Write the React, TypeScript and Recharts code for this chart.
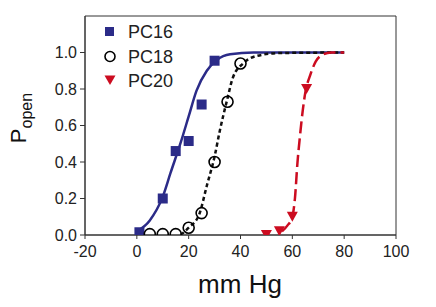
import React from 'react';
import { ComposedChart, Line, Scatter, XAxis, YAxis, ReferenceArea } from 'recharts';

const xTicks = [-20, 0, 20, 40, 60, 80, 100];
const yTicks = [0, 0.2, 0.4, 0.6, 0.8, 1.0];

const pc16PtX = [1, 10, 15, 20, 25, 30];
const pc16PtY = [0.015, 0.2, 0.46, 0.515, 0.715, 0.955];
const pc18PtX = [5, 10, 15, 20, 25, 30, 35, 40];
const pc18PtY = [0.005, 0.005, 0.005, 0.04, 0.12, 0.4, 0.73, 0.94];
const pc20PtX = [50, 55, 60, 65.5];
const pc20PtY = [0.0, 0.02, 0.1, 0.8];

const pc16FitX = [0, 5, 10, 13, 17, 20, 23, 27, 31, 36, 45, 80];
const pc16FitY = [0.02, 0.08, 0.21, 0.34, 0.51, 0.65, 0.79, 0.9, 0.96, 0.99, 1.0, 1.0];
const pc18FitX = [17, 20, 24, 27, 30, 32, 35, 37, 41, 46, 55, 80];
const pc18FitY = [0.0, 0.04, 0.11, 0.27, 0.43, 0.57, 0.75, 0.86, 0.94, 0.98, 0.997, 1.0];
const pc20FitX = [56, 58, 60, 61, 62, 63, 64, 65, 67, 69, 72, 75, 80];
const pc20FitY = [0.02, 0.05, 0.1, 0.2, 0.4, 0.55, 0.68, 0.78, 0.88, 0.95, 0.99, 1.0, 1.0];

const zip = (xs: number[], ys: number[]) => xs.map((x, i) => ({ x, y: ys[i] }));

const pc16Pts = zip(pc16PtX, pc16PtY);
const pc18Pts = zip(pc18PtX, pc18PtY);
const pc20Pts = zip(pc20PtX, pc20PtY);
const pc16Fit = zip(pc16FitX, pc16FitY);
const pc18Fit = zip(pc18FitX, pc18FitY);
const pc20Fit = zip(pc20FitX, pc20FitY);

const NAVY = '#2b2b88';
const RED = '#cc0c20';
const FONT = '"Liberation Sans", Arial, sans-serif';

const Square = (p: any) => (
  <rect x={p.cx - 5} y={p.cy - 5} width={10} height={10} fill={NAVY} />
);
const Circ = (p: any) => (
  <circle cx={p.cx} cy={p.cy} r={5.5} fill="none" stroke="#000" strokeWidth={1.6} />
);
const Tri = (p: any) => (
  <path d={`M${p.cx - 5.5},${p.cy - 5} L${p.cx + 5.5},${p.cy - 5} L${p.cx},${p.cy + 5} Z`} fill={RED} />
);

export default function App() {
  return (
    <div style={{ position: 'absolute', left: 0, top: 0, width: 436, height: 307, background: '#fff' }}>
      <ComposedChart
        width={436}
        height={307}
        margin={{ top: 16, right: 40, bottom: 42, left: 0 }}
      >
        <XAxis
          type="number"
          dataKey="x"
          domain={[-20, 100]}
          ticks={xTicks}
          allowDataOverflow
          stroke="#333"
          tickSize={4}
          tick={{ fill: '#222', fontSize: 16, fontFamily: FONT }}
          tickMargin={7}
          height={30}
        />
        <YAxis
          type="number"
          dataKey="y"
          domain={[0, 1.2]}
          ticks={yTicks}
          allowDataOverflow
          width={85}
          stroke="#333"
          tickSize={5}
          tickMargin={3}
          tickFormatter={(v: number) => v.toFixed(1)}
          tick={{ fill: '#222', fontSize: 16, fontFamily: FONT }}
        />
        <ReferenceArea x1={-20} x2={100} y1={0} y2={1.2} fill="none" stroke="#333" strokeWidth={1} ifOverflow="visible" />
        <Line data={pc16Fit} dataKey="y" type="monotone" stroke={NAVY} strokeWidth={2.5} dot={false} isAnimationActive={false} />
        <Line data={pc18Fit} dataKey="y" type="monotone" stroke="#111" strokeWidth={2.5} strokeDasharray="4 3" dot={false} isAnimationActive={false} />
        <Line data={pc20Fit} dataKey="y" type="monotone" stroke={RED} strokeWidth={2.5} strokeDasharray="12 5" dot={false} isAnimationActive={false} />
        <Scatter data={pc16Pts} dataKey="y" shape={Square} isAnimationActive={false} />
        <Scatter data={pc18Pts} dataKey="y" shape={Circ} isAnimationActive={false} />
        <Scatter data={pc20Pts} dataKey="y" shape={Tri} isAnimationActive={false} />
        <text x={240} y={293} textAnchor="middle" fontSize={26} fontFamily={FONT} fill="#111">mm Hg</text>
        <text transform="rotate(-90, 26, 118)" x={26} y={118} textAnchor="middle" fontFamily={FONT} fill="#111">
          <tspan fontSize={22}>P</tspan>
          <tspan fontSize={16} dy={6}>open</tspan>
        </text>
        <g fontFamily={FONT} fontSize={18} fill="#222">
          <rect x={105} y={27} width={9} height={9} fill={NAVY} />
          <text x={128} y={38}>PC16</text>
          <circle cx={110} cy={56.5} r={5} fill="none" stroke="#000" strokeWidth={1.6} />
          <text x={128} y={63}>PC18</text>
          <path d="M104.5,75.5 L115.5,75.5 L110,85 Z" fill={RED} />
          <text x={128} y={87}>PC20</text>
        </g>
      </ComposedChart>
    </div>
  );
}
